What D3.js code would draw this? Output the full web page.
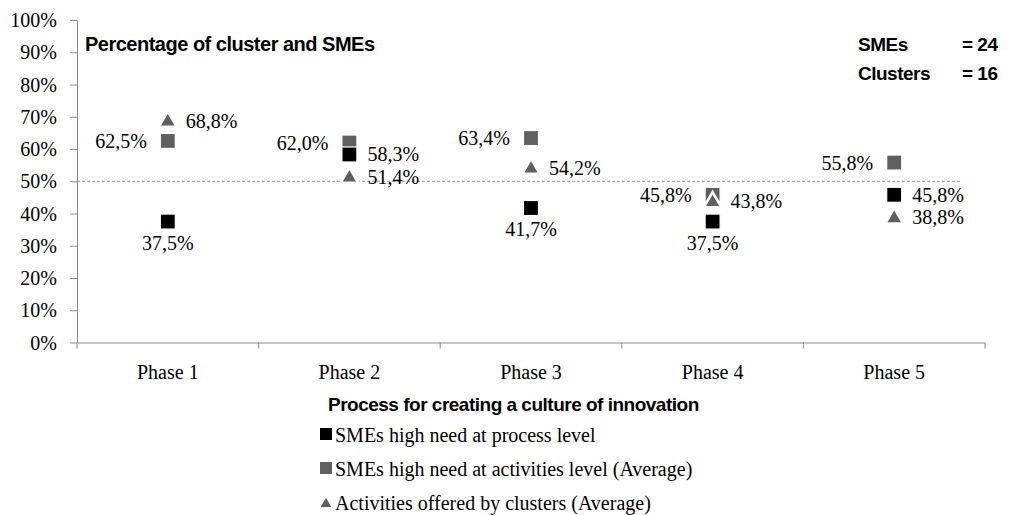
<!DOCTYPE html>
<html>
<head>
<meta charset="utf-8">
<script src="https://cdn.jsdelivr.net/npm/d3@7"></script>
<style>
  body { margin: 0; background: #fff; }
  svg { display: block; }
</style>
</head>
<body>
<svg id="chart" width="1009" height="515"></svg>
<script>
// data
var phases = ["Phase 1", "Phase 2", "Phase 3", "Phase 4", "Phase 5"];
var processLevel = [37.5, 58.3, 41.7, 37.5, 45.8];
var activitiesLevel = [62.5, 62.0, 63.4, 45.8, 55.8];
var offeredByClusters = [68.8, 51.4, 54.2, 43.8, 38.8];
var yTicks = [0, 10, 20, 30, 40, 50, 60, 70, 80, 90, 100];
var seriesNames = ["SMEs high need at process level",
                   "SMEs high need at activities level (Average)",
                   "Activities offered by clusters (Average)"];
var smeCount = 24, clusterCount = 16;
var threshold = 50;

// where each data label sits relative to its marker
var labelSide = [
    ["below", "right", "below", "below", "right"],
    ["left", "left", "left", "left", "left"],
    ["right", "right", "right", "right", "right"]
];

var svg = d3.select("#chart");
var grey = "#5f5f5f", axisGrey = "#8c8c8c";
var serif = "'Liberation Serif', 'Times New Roman', serif";
var sans = "'Liberation Sans', Arial, sans-serif";

var x = d3.scaleBand().domain(phases).range([77, 985]);
var y = d3.scaleLinear().domain([0, 100]).range([342.5, 20]);

var locale = d3.formatLocale({decimal: ",", thousands: ".", grouping: [3], currency: ["", ""]});
var fmt = locale.format(".1f");

// y axis
var yAxis = svg.append("g")
    .attr("transform", "translate(77,0)")
    .call(d3.axisLeft(y).tickValues(yTicks).tickSize(7).tickSizeOuter(0)
        .tickFormat(function(d){ return d + "%"; }));
yAxis.attr("font-family", serif).attr("font-size", 20);
yAxis.select(".domain").attr("stroke", axisGrey);
yAxis.selectAll(".tick line").attr("stroke", axisGrey);
yAxis.selectAll(".tick text")
    .attr("fill", "#000")
    .attr("x", -20)
    .attr("dy", "0.33em");

// x axis, ticks between the phases
var xAxis = svg.append("g")
    .attr("transform", "translate(0," + y(0) + ")")
    .call(d3.axisBottom(x).tickSize(0).tickSizeOuter(0));
xAxis.attr("font-family", serif).attr("font-size", 20);
xAxis.select(".domain").attr("stroke", axisGrey);
xAxis.selectAll(".tick text")
    .attr("fill", "#000")
    .attr("dy", "1.65em");
var bounds = phases.map(function(p){ return x(p); }).concat([x.range()[1]]);
svg.append("g").selectAll("line").data(bounds).enter().append("line")
    .attr("x1", function(d){ return d; })
    .attr("x2", function(d){ return d; })
    .attr("y1", y(0))
    .attr("y2", y(0) + 6)
    .attr("stroke", axisGrey);

// 50% dashed reference line
svg.append("line")
    .attr("x1", 77).attr("x2", 960)
    .attr("y1", y(threshold)).attr("y2", y(threshold))
    .attr("stroke", "#777")
    .attr("stroke-width", 0.8)
    .attr("stroke-dasharray", "3,2");

// markers
var cx = function(i){ return x(phases[i]) + x.bandwidth() / 2; };
var sq = 15;

function addSquares(vals, color){
    svg.append("g").selectAll("rect").data(vals).enter().append("rect")
        .attr("x", function(d, i){ return cx(i) - sq / 2; })
        .attr("y", function(d){ return y(d) - sq / 2; })
        .attr("width", sq).attr("height", sq)
        .attr("fill", color)
        .attr("stroke", "#fff").attr("stroke-width", 1.2);
}
addSquares(activitiesLevel, grey);
addSquares(processLevel, "#000");

var tri = d3.symbol().type(d3.symbolTriangle).size(135);
svg.append("g").selectAll("path").data(offeredByClusters).enter().append("path")
    .attr("d", tri)
    .attr("transform", function(d, i){ return "translate(" + cx(i) + "," + (y(d) + 1) + ")"; })
    .attr("fill", grey)
    .attr("stroke", "#fff").attr("stroke-width", 2.5);

// data labels
function addLabels(vals, sides){
    svg.append("g").selectAll("text").data(vals).enter().append("text")
        .attr("font-family", serif)
        .attr("font-size", 20)
        .attr("fill", "#000")
        .attr("x", function(d, i){
            if (sides[i] == "left") return cx(i) - 21;
            if (sides[i] == "right") return cx(i) + 18;
            return cx(i);
        })
        .attr("y", function(d, i){
            if (sides[i] == "below") return y(d) + 28;
            return y(d) + 7;
        })
        .attr("text-anchor", function(d, i){
            if (sides[i] == "left") return "end";
            if (sides[i] == "right") return "start";
            return "middle";
        })
        .text(function(d){ return fmt(d) + "%"; });
}
addLabels(processLevel, labelSide[0]);
addLabels(activitiesLevel, labelSide[1]);
addLabels(offeredByClusters, labelSide[2]);

// titles
function boldText(tx, ty, size, txt){
    return svg.append("text")
        .attr("font-family", sans).attr("font-weight", "bold")
        .attr("x", tx).attr("y", ty)
        .attr("font-size", size).attr("letter-spacing", -0.5)
        .text(txt);
}
boldText(85, 51, 20, "Percentage of cluster and SMEs");
boldText(858, 51, 19, "SMEs");
boldText(962, 51, 19, "= " + smeCount);
boldText(858, 80, 19, "Clusters");
boldText(962, 80, 19, "= " + clusterCount);
boldText(328, 411, 19, "Process for creating a culture of innovation");

// legend
var legend = svg.append("g").attr("transform", "translate(320,0)");
var rows = legend.selectAll("g").data(seriesNames).enter().append("g")
    .attr("transform", function(d, i){ return "translate(0," + (436 + i * 34) + ")"; });
rows.each(function(d, i){
    var g = d3.select(this);
    if (i < 2) {
        g.append("rect").attr("x", 0).attr("y", -8).attr("width", 12).attr("height", 12)
            .attr("fill", i == 0 ? "#000" : grey);
    } else {
        g.append("path").attr("d", d3.symbol().type(d3.symbolTriangle).size(50))
            .attr("transform", "translate(6,0)")
            .attr("fill", grey);
    }
    g.append("text")
        .attr("font-family", serif)
        .attr("x", 15).attr("y", 6)
        .attr("font-size", 20)
        .text(d);
});
</script>
</body>
</html>
